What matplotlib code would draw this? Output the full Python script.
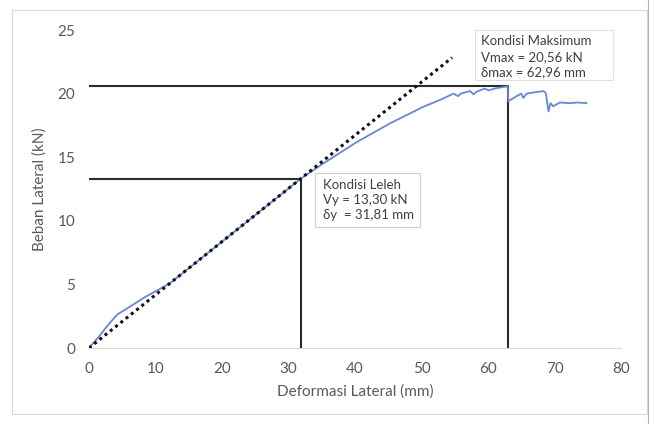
import matplotlib
matplotlib.use("Agg")
import matplotlib.pyplot as plt
from matplotlib.patches import Rectangle

# ---- data ----
curve_x = [0, 1.5, 3, 4.3, 6, 8.4, 10.5, 12.2, 15, 20, 25, 28, 31.81, 35.2, 40.3,
           45.3, 50.3, 53, 54.8, 55.5, 55.9, 57.3, 57.8, 58.3, 59.5, 60.1, 61,
           62.6, 62.96, 63.05, 64.3, 65.0, 65.3, 65.8, 67, 68.3, 68.7, 69.1,
           69.4, 69.8, 70.8, 72.3, 73.5, 74.8]
curve_y = [0, 0.9, 1.9, 2.65, 3.2, 4.0, 4.6, 5.1, 6.27, 8.36, 10.45, 11.7, 13.30,
           14.5, 16.2, 17.67, 18.97, 19.55, 20.0, 19.8, 20.0, 20.2, 19.95, 20.15,
           20.4, 20.25, 20.4, 20.55, 20.56, 19.4, 19.8, 20.0, 19.65, 20.0, 20.1,
           20.2, 20.05, 18.6, 19.25, 19.0, 19.3, 19.25, 19.3, 19.25]
secant_x = [0, 54.6]
secant_y = [0, 22.83]
yield_d, yield_v = 31.81, 13.30
max_d, max_v = 62.96, 20.56
x_ticks = [0, 10, 20, 30, 40, 50, 60, 70, 80]
y_ticks = [0, 5, 10, 15, 20, 25]
leleh_lines = ["Kondisi Leleh", "Vy = 13,30 kN", "δy  = 31,81 mm"]
maks_lines = ["Kondisi Maksimum", "Vmax = 20,56 kN", "δmax = 62,96 mm"]

plt.rcParams['font.family'] = ['Lato', 'DejaVu Sans']

fig = plt.figure(figsize=(6.56, 4.24), dpi=100)
ax = fig.add_axes([89/656, 1-348/424, (621-89)/656, (348-30)/424])

ax.plot(curve_x, curve_y, color='#6A86D4', lw=1.3, zorder=3)
ax.plot(secant_x, secant_y, color='#111111', lw=2.2, ls=(0, (1, 1.2)), zorder=4)
ax.plot([0, yield_d, yield_d], [yield_v, yield_v, 0], color='#2b2b2b', lw=1.5, zorder=2)
ax.plot([0, max_d, max_d], [max_v, max_v, 0], color='#2b2b2b', lw=1.5, zorder=2)

ax.set_xlim(0, 80)
ax.set_ylim(0, 25)
ax.set_xticks(x_ticks)
ax.set_yticks(y_ticks)
ax.tick_params(length=0, labelsize=11, colors='#595959', pad=10)
for s in ['top', 'right', 'left']:
    ax.spines[s].set_visible(False)
ax.spines['bottom'].set_color('#d9d9d9')
ax.set_xlabel('Deformasi Lateral (mm)', fontsize=11, color='#595959', labelpad=6)
ax.set_ylabel('Beban Lateral (kN)', fontsize=11, color='#595959', labelpad=8)

# annotation boxes (positions in data units)
ax.add_patch(Rectangle((34.0, 9.5), 15.8, 4.25, facecolor='white',
                       edgecolor='#d0d0d0', lw=0.8, zorder=5, clip_on=False))
for i, t in enumerate(leleh_lines):
    ax.text(35.2, 12.85 - i*1.2, t, fontsize=9.5, color='#404040', va='center',
            zorder=6)
ax.add_patch(Rectangle((58.0, 21.1), 20.8, 3.9, facecolor='white',
                       edgecolor='#e0e0e0', lw=0.8, zorder=5, clip_on=False))
for i, t in enumerate(maks_lines):
    ax.text(58.9, 24.1 - i*1.2, t, fontsize=9.5, color='#404040', va='center',
            zorder=6, clip_on=False)

# outer chart border
fig.add_artist(Rectangle((12/656, 1-414/424), (647-12)/656, (414-10)/424,
                         transform=fig.transFigure, fill=False,
                         edgecolor='#d9d9d9', lw=0.8))
fig.add_artist(plt.Line2D([648/656, 648/656], [0, 1], transform=fig.transFigure,
                          color='#b0b0b0', lw=0.8))

fig.savefig('out.png', dpi=100, facecolor='white')
